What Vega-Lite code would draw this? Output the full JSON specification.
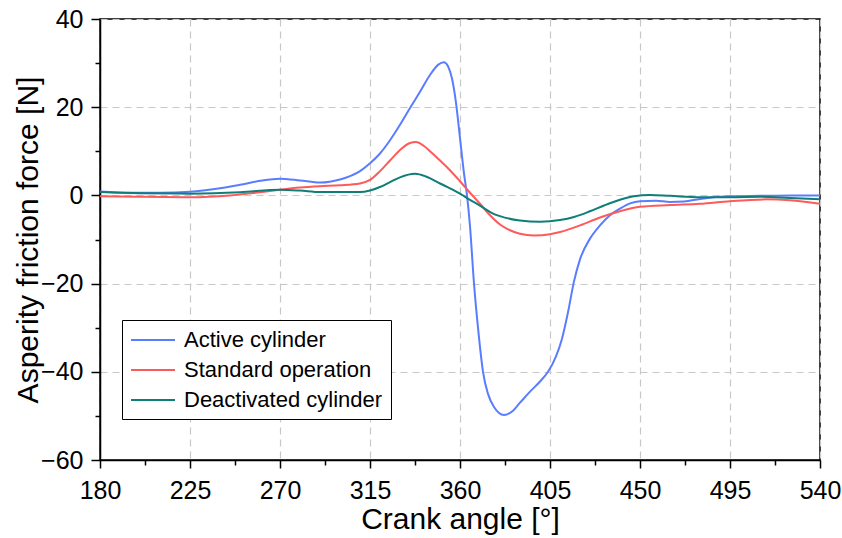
{
  "$schema": "https://vega.github.io/schema/vega-lite/v6.json",
  "width": 720,
  "height": 441,
  "autosize": "none",
  "padding": {"left": 100, "top": 19, "right": 22, "bottom": 78},
  "background": "white",
  "config": {
    "font": "Liberation Sans",
    "view": {"stroke": "black", "strokeWidth": 1.5},
    "axis": {
      "domainColor": "black", "domainWidth": 1.5,
      "tickColor": "black", "tickWidth": 1.5,
      "labelColor": "black", "titleColor": "black",
      "labelFontSize": 25, "titleFontSize": 30, "titleFontWeight": "normal",
      "gridColor": "#c8c8c8", "gridDash": [7, 5], "gridWidth": 1.2
    }
  },
  "data": {"values": [
    {"a":180,"f":0.9,"s":"Active cylinder"},{"a":195,"f":0.6,"s":"Active cylinder"},{"a":210,"f":0.6,"s":"Active cylinder"},{"a":225,"f":0.8,"s":"Active cylinder"},{"a":240,"f":1.6,"s":"Active cylinder"},{"a":250,"f":2.4,"s":"Active cylinder"},{"a":260,"f":3.3,"s":"Active cylinder"},{"a":270,"f":3.8,"s":"Active cylinder"},{"a":280,"f":3.4,"s":"Active cylinder"},{"a":290,"f":2.9,"s":"Active cylinder"},{"a":300,"f":3.6,"s":"Active cylinder"},{"a":310,"f":5.5,"s":"Active cylinder"},{"a":315,"f":7.3,"s":"Active cylinder"},{"a":320,"f":9.5,"s":"Active cylinder"},{"a":325,"f":12.5,"s":"Active cylinder"},{"a":330,"f":16,"s":"Active cylinder"},{"a":335,"f":19.8,"s":"Active cylinder"},{"a":340,"f":23.5,"s":"Active cylinder"},{"a":345,"f":27.3,"s":"Active cylinder"},{"a":349,"f":29.6,"s":"Active cylinder"},{"a":352,"f":30.2,"s":"Active cylinder"},{"a":354,"f":29.3,"s":"Active cylinder"},{"a":356,"f":26.5,"s":"Active cylinder"},{"a":358,"f":21,"s":"Active cylinder"},{"a":360,"f":13,"s":"Active cylinder"},{"a":362,"f":5,"s":"Active cylinder"},{"a":363.5,"f":0,"s":"Active cylinder"},{"a":365,"f":-7,"s":"Active cylinder"},{"a":367,"f":-20,"s":"Active cylinder"},{"a":369,"f":-30,"s":"Active cylinder"},{"a":371.5,"f":-40,"s":"Active cylinder"},{"a":374,"f":-45,"s":"Active cylinder"},{"a":377,"f":-48,"s":"Active cylinder"},{"a":382,"f":-49.8,"s":"Active cylinder"},{"a":386,"f":-49,"s":"Active cylinder"},{"a":390,"f":-47,"s":"Active cylinder"},{"a":395,"f":-44.5,"s":"Active cylinder"},{"a":400,"f":-42.2,"s":"Active cylinder"},{"a":404,"f":-40,"s":"Active cylinder"},{"a":408,"f":-36.5,"s":"Active cylinder"},{"a":411,"f":-32.5,"s":"Active cylinder"},{"a":414,"f":-26.5,"s":"Active cylinder"},{"a":417,"f":-19.5,"s":"Active cylinder"},{"a":420,"f":-14.5,"s":"Active cylinder"},{"a":425,"f":-9.8,"s":"Active cylinder"},{"a":430,"f":-6.8,"s":"Active cylinder"},{"a":435,"f":-4.5,"s":"Active cylinder"},{"a":440,"f":-3,"s":"Active cylinder"},{"a":445,"f":-1.8,"s":"Active cylinder"},{"a":450,"f":-1.3,"s":"Active cylinder"},{"a":458,"f":-1.2,"s":"Active cylinder"},{"a":465,"f":-1.5,"s":"Active cylinder"},{"a":472,"f":-1.4,"s":"Active cylinder"},{"a":480,"f":-0.8,"s":"Active cylinder"},{"a":495,"f":-0.2,"s":"Active cylinder"},{"a":510,"f":-0.1,"s":"Active cylinder"},{"a":525,"f":0,"s":"Active cylinder"},{"a":540,"f":0,"s":"Active cylinder"},

    {"a":180,"f":-0.2,"s":"Standard operation"},{"a":200,"f":-0.3,"s":"Standard operation"},{"a":225,"f":-0.4,"s":"Standard operation"},{"a":245,"f":0,"s":"Standard operation"},{"a":260,"f":0.7,"s":"Standard operation"},{"a":270,"f":1.3,"s":"Standard operation"},{"a":280,"f":1.8,"s":"Standard operation"},{"a":290,"f":2.1,"s":"Standard operation"},{"a":300,"f":2.3,"s":"Standard operation"},{"a":310,"f":2.7,"s":"Standard operation"},{"a":315,"f":3.5,"s":"Standard operation"},{"a":320,"f":5.5,"s":"Standard operation"},{"a":325,"f":7.9,"s":"Standard operation"},{"a":330,"f":10.3,"s":"Standard operation"},{"a":335,"f":11.9,"s":"Standard operation"},{"a":338,"f":12.1,"s":"Standard operation"},{"a":342,"f":11.2,"s":"Standard operation"},{"a":346,"f":9.6,"s":"Standard operation"},{"a":350,"f":7.9,"s":"Standard operation"},{"a":355,"f":5.7,"s":"Standard operation"},{"a":360,"f":3.2,"s":"Standard operation"},{"a":365,"f":0.6,"s":"Standard operation"},{"a":370,"f":-1.9,"s":"Standard operation"},{"a":375,"f":-4.5,"s":"Standard operation"},{"a":380,"f":-6.6,"s":"Standard operation"},{"a":385,"f":-7.9,"s":"Standard operation"},{"a":390,"f":-8.7,"s":"Standard operation"},{"a":397,"f":-9.1,"s":"Standard operation"},{"a":405,"f":-8.8,"s":"Standard operation"},{"a":410,"f":-8.3,"s":"Standard operation"},{"a":420,"f":-6.8,"s":"Standard operation"},{"a":430,"f":-5,"s":"Standard operation"},{"a":440,"f":-3.6,"s":"Standard operation"},{"a":450,"f":-2.6,"s":"Standard operation"},{"a":465,"f":-2.2,"s":"Standard operation"},{"a":480,"f":-1.9,"s":"Standard operation"},{"a":495,"f":-1.3,"s":"Standard operation"},{"a":513,"f":-0.9,"s":"Standard operation"},{"a":525,"f":-1.1,"s":"Standard operation"},{"a":540,"f":-1.9,"s":"Standard operation"},

    {"a":180,"f":0.75,"s":"Deactivated cylinder"},{"a":200,"f":0.5,"s":"Deactivated cylinder"},{"a":225,"f":0.4,"s":"Deactivated cylinder"},{"a":250,"f":0.7,"s":"Deactivated cylinder"},{"a":270,"f":1.3,"s":"Deactivated cylinder"},{"a":280,"f":1.1,"s":"Deactivated cylinder"},{"a":290,"f":0.75,"s":"Deactivated cylinder"},{"a":310,"f":0.75,"s":"Deactivated cylinder"},{"a":315,"f":1.1,"s":"Deactivated cylinder"},{"a":320,"f":1.9,"s":"Deactivated cylinder"},{"a":325,"f":3,"s":"Deactivated cylinder"},{"a":330,"f":4.1,"s":"Deactivated cylinder"},{"a":337.5,"f":4.9,"s":"Deactivated cylinder"},{"a":343,"f":4.3,"s":"Deactivated cylinder"},{"a":350,"f":2.7,"s":"Deactivated cylinder"},{"a":355,"f":1.6,"s":"Deactivated cylinder"},{"a":360,"f":0.4,"s":"Deactivated cylinder"},{"a":365,"f":-1,"s":"Deactivated cylinder"},{"a":370,"f":-2.3,"s":"Deactivated cylinder"},{"a":376,"f":-4,"s":"Deactivated cylinder"},{"a":380,"f":-4.7,"s":"Deactivated cylinder"},{"a":390,"f":-5.7,"s":"Deactivated cylinder"},{"a":400,"f":-6,"s":"Deactivated cylinder"},{"a":410,"f":-5.6,"s":"Deactivated cylinder"},{"a":417,"f":-4.9,"s":"Deactivated cylinder"},{"a":425,"f":-3.6,"s":"Deactivated cylinder"},{"a":432,"f":-2.3,"s":"Deactivated cylinder"},{"a":440,"f":-1,"s":"Deactivated cylinder"},{"a":447,"f":-0.2,"s":"Deactivated cylinder"},{"a":455,"f":0.1,"s":"Deactivated cylinder"},{"a":465,"f":-0.1,"s":"Deactivated cylinder"},{"a":480,"f":-0.4,"s":"Deactivated cylinder"},{"a":495,"f":-0.4,"s":"Deactivated cylinder"},{"a":510,"f":-0.3,"s":"Deactivated cylinder"},{"a":525,"f":-0.6,"s":"Deactivated cylinder"},{"a":540,"f":-0.9,"s":"Deactivated cylinder"}
  ]},
  "layer": [
    {
      "mark": {"type": "line", "opacity": 0},
      "encoding": {
        "x": {"field": "a", "type": "quantitative", "scale": {"domain": [180, 540], "nice": false, "zero": false},
          "axis": {"orient": "bottom", "values": [202.5, 247.5, 292.5, 337.5, 382.5, 427.5, 472.5, 517.5], "labels": false, "tickSize": 5, "domain": false, "grid": false, "title": null}},
        "y": {"field": "f", "type": "quantitative", "scale": {"domain": [-60, 40], "nice": false, "zero": false},
          "axis": {"orient": "left", "values": [-50, -30, -10, 10, 30], "labels": false, "tickSize": 5, "domain": false, "grid": false, "title": null}},
        "detail": {"field": "s"}
      }
    },
    {
      "mark": {"type": "line", "interpolate": "monotone", "strokeWidth": 2},
      "encoding": {
        "x": {"field": "a", "type": "quantitative", "scale": {"domain": [180, 540], "nice": false, "zero": false},
          "axis": {"orient": "bottom", "values": [180, 225, 270, 315, 360, 405, 450, 495, 540], "tickSize": 8, "labelBaseline": "alphabetic", "labelPadding": 30, "title": "Crank angle [°]", "titleBaseline": "alphabetic", "titleY": 68, "grid": true, "labelFlush": false}},
        "y": {"field": "f", "type": "quantitative", "scale": {"domain": [-60, 40], "nice": false, "zero": false},
          "axis": {"orient": "left", "values": [-60, -40, -20, 0, 20, 40], "tickSize": 9, "labelPadding": 8, "title": "Asperity friction force [N]", "titleBaseline": "alphabetic", "titleX": -63, "grid": true}},
        "color": {"field": "s", "type": "nominal", "sort": ["Active cylinder", "Standard operation", "Deactivated cylinder"],
          "scale": {"domain": ["Active cylinder", "Standard operation", "Deactivated cylinder"], "range": ["#5a7dff", "#ff5a5a", "#0f7d78"]},
          "legend": {"title": null, "orient": "none", "legendX": 22, "legendY": 301, "direction": "vertical",
            "strokeColor": "black", "fillColor": "white", "padding": 8,
            "symbolType": "M-1,0H3", "symbolSize": 484, "symbolStrokeWidth": 2, "labelOffset": 30,
            "labelFontSize": 22, "labelColor": "black", "rowPadding": 7, "labelLimit": 400}}
      }
    }
  ],
  "resolve": {"axis": {"x": "independent", "y": "independent"}}
}
